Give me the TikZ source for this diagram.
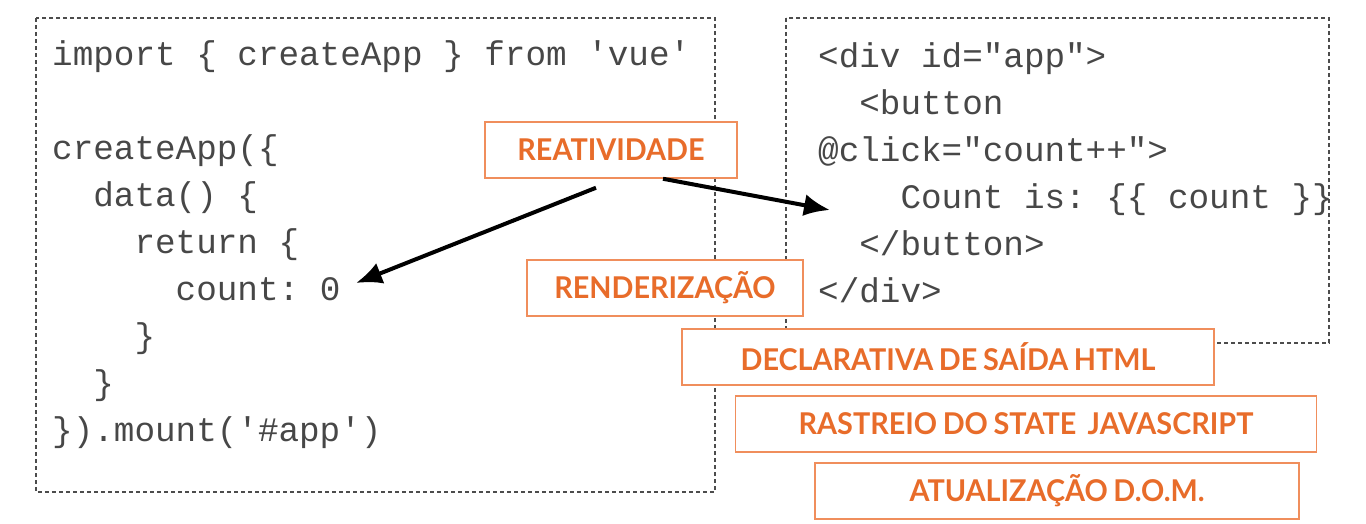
\documentclass[tikz,border=0pt]{standalone}
\usepackage{fontspec}
\setmonofont{Liberation Mono}
\newfontfamily\labelfont{Lato}[FakeStretch=0.96,WordSpace=0.8]
\usetikzlibrary{arrows.meta}
\definecolor{vueorange}{RGB}{232,108,42}
\definecolor{boxorange}{RGB}{240,142,92}
\tikzstyle{frame} = [draw=black!70, line width=1.2pt, dash pattern=on 4pt off 3pt]
\tikzstyle{code} = [anchor=north west, inner sep=0pt, align=left, font=\ttfamily\fontsize{34.3}{47}\selectfont, text=black!72]
\tikzstyle{concept} = [rectangle, draw=boxorange, line width=1.5pt, fill=white, minimum height=56pt, text centered, text=vueorange, font=\labelfont\bfseries\fontsize{30}{34}\selectfont]
\tikzstyle{arrow} = [line width=4pt, -{Latex[length=26pt,width=22pt]}]

\begin{document}
\begin{tikzpicture}[x=1pt,y=-1pt]
	\useasboundingbox (0,0) rectangle (1366,523);

	\draw [frame] (36,18) rectangle (715,492);
	\draw [frame] (786,18) rectangle (1329,343);

	\node (script) [code] at (52,40) {import \{ createApp \} from 'vue'\\
		~\\
		createApp(\{\\
		~~data() \{\\
		~~~~return \{\\
		~~~~~~count: 0\\
		~~~~\}\\
		~~\}\\
		\}).mount('\#app')};
	\node (template) [code] at (818,42) {<div id="app">\\
		~~<button\\
		@click="count++">\\
		~~~~Count is: \{\{ count \}\}\\
		~~</button>\\
		</div>};

	\node (reat) [concept, minimum width=252pt] at (611,150) {REATIVIDADE};
	\node (rend) [concept, minimum width=276pt] at (665,288) {RENDERIZAÇÃO};
	\node (decl) [concept, minimum width=532pt] at (948,357) {DECLARATIVA DE SAÍDA HTML};
	\node (rast) [concept, minimum width=581pt] at (1026,424) {RASTREIO DO STATE \ JAVASCRIPT};
	\node (atual) [concept, minimum width=484pt] at (1057,491) {ATUALIZAÇÃO D.O.M.};

	\coordinate (count) at (356,283);
	\coordinate (button) at (830,210);

	\draw [arrow] ([xshift=-15pt,yshift=-9pt]reat.south) -- (count);
	\draw [arrow] ([xshift=52pt]reat.south) -- (button);

\end{tikzpicture}
\end{document}
